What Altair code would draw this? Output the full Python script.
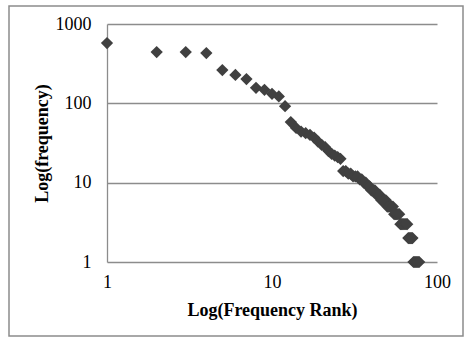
import altair as alt
import pandas as pd

ranks = list(range(1, 79))
freqs = [575, 443, 443, 430, 263, 228, 202, 157, 148, 132,
         122, 92, 58, 49, 44, 42, 40, 37, 33, 30,
         28, 25, 23, 22, 21, 20, 14, 14, 13, 13,
         12, 12, 12, 11, 11, 10, 10, 9, 9, 8,
         8, 8, 7, 7, 7, 6, 6, 6, 6, 5,
         5, 5, 5, 5, 4, 4, 4, 4, 4, 3,
         3, 3, 3, 3, 3, 3, 2, 2, 2, 2,
         2, 1, 1, 1, 1, 1, 1, 1]
x_ticks = [1, 10, 100]
y_ticks = [1, 10, 100, 1000]

df = pd.DataFrame({"rank": ranks, "freq": freqs})

FONT = "Liberation Serif"
GRAY = "#8c8c8c"

points = alt.Chart(df).mark_point(
    shape="diamond", filled=True, size=150, color="#404040", opacity=1
).encode(
    x=alt.X("rank:Q",
            scale=alt.Scale(type="log", domain=[1, 100]),
            axis=alt.Axis(values=x_ticks, title="Log(Frequency Rank)",
                          grid=False, domain=False, ticks=False,
                          labelFlush=False,
                          labelPadding=11, titlePadding=10,
                          format="d")),
    y=alt.Y("freq:Q",
            scale=alt.Scale(type="log", domain=[1, 1000]),
            axis=alt.Axis(values=y_ticks, title="Log(frequency)",
                          grid=True, gridColor=GRAY, gridWidth=1.3,
                          domain=True, domainColor=GRAY, domainWidth=1.3,
                          ticks=False, labelPadding=16, titlePadding=4,
                          format="d")),
)

border = alt.Chart(pd.DataFrame({"a": [0]})).mark_rect(
    fillOpacity=0, stroke=GRAY, strokeWidth=1.5
).encode(
    x=alt.value(-98), x2=alt.value(356),
    y=alt.value(-18), y2=alt.value(312),
)

chart = alt.layer(border, points).properties(
    width=330, height=238,
    autosize=alt.AutoSizeParams(type="none"),
    padding={"left": 107, "top": 24, "right": 28, "bottom": 79},
    background="white",
).configure_view(
    stroke=None
).configure_axis(
    labelFont=FONT, labelFontSize=18, labelColor="#000000",
    titleFont=FONT, titleFontSize=18, titleFontWeight="bold",
    titleColor="#000000",
)

chart.save("out.html", embed_options={"renderer": "svg", "actions": False})
